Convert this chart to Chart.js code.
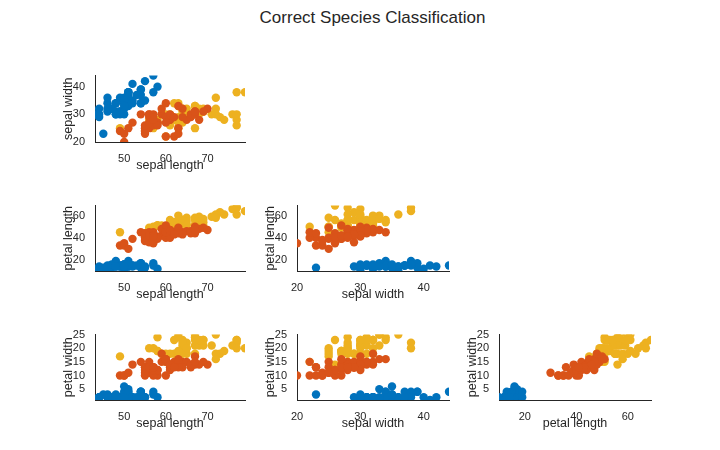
<!DOCTYPE html>
<html><head><meta charset="utf-8">
<script src="https://cdn.jsdelivr.net/npm/chart.js@4"></script>
<style>
body{margin:0;width:720px;height:450px;background:#fff;position:relative;font-family:"Liberation Sans",Arial,sans-serif;}
#title{position:absolute;top:8px;left:0;width:745px;text-align:center;font-size:17px;color:#262626;}
.c{position:absolute;}
</style></head><body>
<div id="title">Correct Species Classification</div>
<script>
const speciesNames=["setosa","versicolor","virginica"];
const speciesColors=["#0072BD","#D95319","#EDB120"];
const sepalLength=[51,49,47,46,50,54,46,50,44,49,54,48,48,43,58,57,54,51,57,51,54,51,46,51,48,50,50,52,52,47,48,54,52,55,49,50,55,49,44,51,50,45,44,50,51,48,51,46,53,50,
70,64,69,55,65,57,63,49,66,52,50,59,60,61,56,67,56,58,62,56,59,61,63,61,64,66,68,67,60,57,55,55,58,60,54,60,67,63,56,55,55,61,58,50,56,57,57,62,51,57,
63,58,71,63,65,76,49,73,67,72,65,64,68,57,58,64,65,77,77,60,69,56,77,63,67,72,62,61,64,72,74,79,64,63,61,77,63,64,60,69,67,69,58,68,67,67,63,65,62,59];
const sepalWidth=[35,30,32,31,36,39,34,34,29,31,37,34,30,30,40,44,39,35,38,38,34,37,36,33,34,30,34,35,34,32,31,34,41,42,31,32,35,36,30,34,35,23,32,35,38,30,38,32,37,33,
32,32,31,23,28,28,33,24,29,27,20,30,22,29,29,31,30,27,22,25,32,28,25,28,29,30,28,30,29,26,24,24,27,27,30,34,31,23,30,25,26,30,26,23,27,30,29,29,25,28,
33,27,30,29,30,30,25,29,25,36,32,27,30,25,28,32,30,38,26,22,32,28,28,27,33,32,28,30,28,30,28,38,28,28,26,30,34,31,30,31,31,31,27,32,33,30,25,30,34,30];
const petalLength=[14,14,13,15,14,17,14,15,14,15,15,16,14,11,12,15,13,14,17,15,17,15,10,17,19,16,16,15,14,16,16,15,15,14,15,12,13,14,13,15,13,13,13,16,19,14,16,14,15,14,
47,45,49,40,46,45,47,33,46,39,35,42,40,47,36,44,45,41,45,39,48,40,49,47,43,44,48,50,45,35,38,37,39,51,45,45,47,44,41,40,44,46,40,33,42,42,42,43,30,41,
60,51,59,56,58,66,45,63,58,61,51,53,55,50,51,53,55,67,69,50,57,49,67,49,57,60,48,49,56,58,61,64,56,51,56,61,56,55,48,54,56,51,51,59,57,52,50,52,54,51];
const petalWidth=[2,2,2,2,2,4,3,2,2,1,2,2,1,1,2,4,4,3,3,3,2,4,2,5,2,2,4,2,2,2,2,4,1,2,2,2,2,1,2,2,3,3,2,6,4,3,2,2,2,2,
14,15,15,13,15,13,16,10,13,14,10,15,10,14,13,14,15,10,15,11,18,13,15,12,13,14,14,17,15,10,11,10,12,16,15,16,15,13,13,13,12,14,12,10,13,12,13,13,11,13,
25,19,21,18,22,21,17,18,18,25,20,19,21,20,24,23,18,22,23,15,23,20,20,18,21,18,18,18,21,16,19,20,22,15,14,23,24,18,18,21,24,23,19,23,25,23,19,20,23,18];
const species=[].concat(Array(50).fill(0),Array(50).fill(1),Array(50).fill(2));
const ticksSepalLength=[50,60,70];
const ticksSepalWidth=[20,30,40];
const ticksPetalLength=[20,40,60];
const ticksPetalWidth=[5,10,15,20,25];
const vars={
 sl:{data:sepalLength,label:"sepal length",min:43,max:79,ticks:ticksSepalLength},
 sw:{data:sepalWidth,label:"sepal width",min:20,max:44,ticks:ticksSepalWidth},
 pl:{data:petalLength,label:"petal length",min:10,max:69,ticks:ticksPetalLength},
 pw:{data:petalWidth,label:"petal width",min:1,max:25,ticks:ticksPetalWidth}
};
const YW=34, XH=31, PT=6, PR=8;
function axis(v,isY){
 return {type:'linear',min:v.min,max:v.max,
  afterBuildTicks:a=>{a.ticks=v.ticks.map(t=>({value:t}));},
  afterFit:a=>{if(isY)a.width=YW;else a.height=XH;},
  grid:{display:false},border:{display:true,color:'#262626',width:1},
  ticks:{color:'#262626',font:{size:11,family:'Liberation Sans'},padding:2,autoSkip:false,maxRotation:0},
  title:{display:true,text:v.label,color:'#262626',font:{size:12.5,family:'Liberation Sans'},padding:{top:0,bottom:0}}};
}
function make(xk,yk,x0,x1,y0,y1){
 const c=document.createElement('canvas');
 const w=(x1-x0)+YW+PR, h=(y1-y0)+XH+PT;
 const d=document.createElement('div');d.className='c';
 d.style.left=(x0-YW)+'px';d.style.top=(y0-PT)+'px';d.style.width=w+'px';d.style.height=h+'px';
 d.appendChild(c);document.body.appendChild(d);
 const X=vars[xk],Y=vars[yk];
 const ds=speciesNames.map((n,s)=>({label:n,
  data:species.map((sp,i)=>sp===s?{x:X.data[i],y:Y.data[i]}:null).filter(p=>p),
  backgroundColor:speciesColors[s],borderWidth:0,pointRadius:4.2}));
 new Chart(c,{type:'scatter',data:{datasets:ds},options:{responsive:true,maintainAspectRatio:false,animation:false,
  layout:{padding:{top:PT,right:PR,left:0,bottom:0}},
  plugins:{legend:{display:false},tooltip:{enabled:false}},
  scales:{x:axis(X,false),y:axis(Y,true)}}});
}
make('sl','sw',95,245,73,142);
make('sl','pl',95,245,203,271);
make('sw','pl',297,449,203,271);
make('sl','pw',95,245,332,400);
make('sw','pw',297,449,332,400);
make('pl','pw',499,651,332,400);
</script></body></html>
